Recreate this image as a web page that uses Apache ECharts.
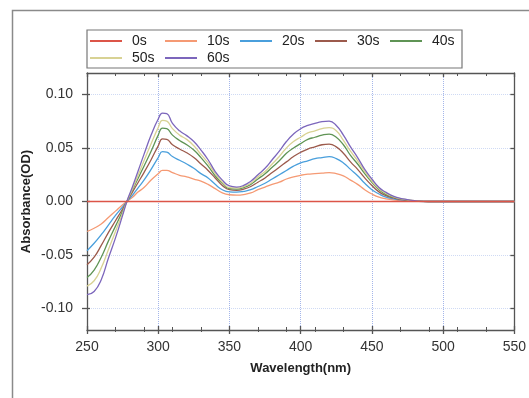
<!DOCTYPE html>
<html><head><meta charset="utf-8">
<script src="https://cdn.jsdelivr.net/npm/echarts@6/dist/echarts.min.js"></script>
<style>html,body{margin:0;padding:0;background:#fff}#c{width:529px;height:398px}</style>
</head><body><div id="c"></div>
<script>
const seriesNames = ['0s','10s','20s','30s','40s','50s','60s'];
const wavelength = [250,255,260,265,270,275,278,282,286,290,295,300,303,306,310,315,320,325,330,335,340,345,350,355,360,365,370,375,380,385,390,395,400,405,410,415,420,425,430,435,440,445,450,455,460,465,470,475,480,490,500,550];
const abs0s  = [0,0,0,0,0,0,0,0,0,0,0,0,0,0,0,0,0,0,0,0,0,0,0,0,0,0,0,0,0,0,0,0,0,0,0,0,0,0,0,0,0,0,0,0,0,0,0,0,0,0,0,0];
const abs10s = [-0.028,-0.025,-0.021,-0.015,-0.009,-0.003,0,0.004,0.009,0.013,0.020,0.026,0.029,0.029,0.027,0.0245,0.023,0.021,0.019,0.016,0.012,0.008,0.0063,0.006,0.0065,0.008,0.011,0.0135,0.016,0.018,0.021,0.023,0.0245,0.0255,0.026,0.0265,0.027,0.026,0.024,0.020,0.016,0.011,0.007,0.004,0.0025,0.0015,0.001,0.0006,0.0003,0,0,0];
const abs20s = [-0.046,-0.039,-0.031,-0.022,-0.013,-0.005,0,0.006,0.013,0.020,0.030,0.041,0.0465,0.046,0.042,0.0385,0.035,0.031,0.026,0.022,0.016,0.011,0.009,0.0088,0.0095,0.011,0.014,0.017,0.021,0.025,0.029,0.033,0.036,0.038,0.040,0.041,0.042,0.040,0.036,0.030,0.024,0.017,0.011,0.007,0.004,0.0025,0.0015,0.0009,0.0004,0,0,0];
const abs30s = [-0.059,-0.052,-0.041,-0.029,-0.018,-0.007,0,0.009,0.018,0.027,0.039,0.052,0.0585,0.058,0.053,0.049,0.0455,0.041,0.035,0.029,0.022,0.015,0.011,0.0104,0.0115,0.014,0.018,0.022,0.027,0.032,0.037,0.042,0.046,0.049,0.051,0.053,0.0535,0.051,0.045,0.037,0.030,0.022,0.015,0.009,0.0055,0.0033,0.002,0.0012,0.0005,0,0,0];
const abs40s = [-0.071,-0.064,-0.052,-0.037,-0.023,-0.009,0,0.011,0.022,0.033,0.047,0.062,0.0686,0.068,0.062,0.057,0.053,0.048,0.041,0.033,0.024,0.017,0.012,0.0116,0.013,0.016,0.021,0.026,0.032,0.038,0.045,0.050,0.054,0.058,0.060,0.062,0.063,0.060,0.053,0.043,0.035,0.026,0.018,0.011,0.0065,0.004,0.0024,0.0014,0.0006,0,0,0];
const abs50s = [-0.079,-0.074,-0.062,-0.045,-0.028,-0.011,0,0.012,0.025,0.038,0.054,0.069,0.0758,0.075,0.068,0.062,0.058,0.052,0.044,0.036,0.026,0.018,0.013,0.0126,0.014,0.017,0.023,0.028,0.035,0.042,0.050,0.056,0.060,0.064,0.066,0.068,0.069,0.066,0.057,0.047,0.038,0.028,0.019,0.012,0.0075,0.0045,0.0027,0.0016,0.0007,0,0,0];
const abs60s = [-0.087,-0.084,-0.073,-0.053,-0.034,-0.013,0,0.014,0.029,0.044,0.062,0.077,0.0825,0.082,0.073,0.066,0.0615,0.056,0.048,0.039,0.028,0.020,0.0145,0.0135,0.015,0.019,0.025,0.031,0.039,0.047,0.056,0.063,0.068,0.071,0.073,0.0745,0.075,0.071,0.062,0.051,0.041,0.030,0.021,0.013,0.0085,0.005,0.003,0.0018,0.0008,0,0,0];
const xTickLabels = [250,300,350,400,450,500,550];
const xMinorTicks = [270,290,310,330,350,370,390,410,430,450,470,490,510,530];
const yTickLabels = [-0.10,-0.05,0.00,0.05,0.10];

const allValues = [abs0s, abs10s, abs20s, abs30s, abs40s, abs50s, abs60s];
const colors = ['#dc5548','#f59a74','#4a9fdc','#9c5a4c','#5f9455','#d8d294','#7c66bc'];

const FONT = '"Liberation Sans", Arial, sans-serif';
const AXC = '#555';

const chart = echarts.init(document.getElementById('c'), null, {renderer: 'canvas'});
const baseX = {type: 'value', min: 250, max: 550, gridIndex: 0};
const baseY = {type: 'value', min: -0.12, max: 0.12, gridIndex: 0};

chart.setOption({
  animation: false,
  backgroundColor: '#fff',
  graphic: [{
    type: 'rect', left: 10, top: 8, silent: true,
    shape: {width: 540, height: 400},
    style: {fill: 'none', stroke: '#8a8a8a', lineWidth: 1.5}
  }],
  grid: {left: 87, right: 11, top: 73, bottom: 68, containLabel: false},
  legend: {
    left: 87, top: 30, width: 378,
    data: seriesNames,
    icon: 'rect', itemWidth: 32, itemHeight: 2, itemGap: 3,
    padding: [4, 0, 3, 3],
    borderColor: '#777', borderWidth: 1.2,
    textStyle: {fontFamily: FONT, fontSize: 14, color: '#222', width: 30, lineHeight: 14, padding: [0,0,0,5]}
  },
  xAxis: [
    Object.assign({}, baseX, {
      position: 'bottom', interval: 50,
      name: 'Wavelength(nm)', nameLocation: 'middle', nameGap: 32, nameMoveOverlap: false,
      nameTextStyle: {fontFamily: FONT, fontSize: 13, fontWeight: 'bold', color: '#222'},
      axisLine: {show: true, onZero: false, lineStyle: {color: AXC, width: 1.3}},
      axisTick: {show: true, inside: false, length: 4, lineStyle: {color: AXC, width: 1.3}},
      axisLabel: {margin: 10, fontFamily: FONT, fontSize: 14, color: '#333', customValues: xTickLabels},
      splitLine: {show: true, lineStyle: {color: '#a4b6ea', type: 'dotted', width: 1}}
    }),
    Object.assign({}, baseX, {
      position: 'bottom', interval: 50,
      axisLine: {show: false, onZero: false},
      axisTick: {show: true, inside: true, length: 4, lineStyle: {color: AXC, width: 1.3}},
      axisLabel: {show: false}, splitLine: {show: false}
    }),
    Object.assign({}, baseX, {
      position: 'bottom',
      axisLine: {show: false, onZero: false},
      axisTick: {show: true, inside: true, length: 3, customValues: xMinorTicks, lineStyle: {color: AXC, width: 1}},
      axisLabel: {show: false}, splitLine: {show: false}
    }),
    Object.assign({}, baseX, {
      position: 'bottom',
      axisLine: {show: false, onZero: false},
      axisTick: {show: true, inside: false, length: 2, customValues: xMinorTicks, lineStyle: {color: AXC, width: 1}},
      axisLabel: {show: false}, splitLine: {show: false}
    }),
    Object.assign({}, baseX, {
      position: 'top', interval: 50,
      axisLine: {show: true, onZero: false, lineStyle: {color: AXC, width: 1.3}},
      axisTick: {show: true, inside: true, length: 4, lineStyle: {color: AXC, width: 1.3}},
      axisLabel: {show: false}, splitLine: {show: false}
    }),
    Object.assign({}, baseX, {
      position: 'top',
      axisLine: {show: false, onZero: false},
      axisTick: {show: true, inside: true, length: 3, customValues: xMinorTicks, lineStyle: {color: AXC, width: 1}},
      axisLabel: {show: false}, splitLine: {show: false}
    })
  ],
  yAxis: [
    Object.assign({}, baseY, {
      position: 'left',
      name: 'Absorbance(OD)', nameLocation: 'middle', nameGap: 54, nameMoveOverlap: false,
      nameTextStyle: {fontFamily: FONT, fontSize: 13, fontWeight: 'bold', color: '#222'},
      axisLine: {show: true, onZero: false, lineStyle: {color: AXC, width: 1.3}},
      axisTick: {show: true, inside: false, length: 5, customValues: yTickLabels, lineStyle: {color: AXC, width: 1.3}},
      axisLabel: {margin: 14, fontFamily: FONT, fontSize: 14, color: '#333', customValues: yTickLabels,
                  formatter: v => v.toFixed(2)},
      splitLine: {show: true, lineStyle: {color: '#cfdaf4', type: 'dotted', width: 1}}
    }),
    Object.assign({}, baseY, {
      position: 'left',
      axisLine: {show: false, onZero: false},
      axisTick: {show: true, inside: true, length: 3, customValues: yTickLabels, lineStyle: {color: AXC, width: 1.3}},
      axisLabel: {show: false}, splitLine: {show: false}
    }),
    Object.assign({}, baseY, {
      position: 'right',
      axisLine: {show: true, onZero: false, lineStyle: {color: AXC, width: 1.3}},
      axisTick: {show: true, inside: true, length: 4, customValues: yTickLabels, lineStyle: {color: AXC, width: 1.3}},
      axisLabel: {show: false}, splitLine: {show: false}
    })
  ],
  series: seriesNames.map((name, i) => ({
    name: name,
    type: 'line',
    xAxisIndex: 0, yAxisIndex: 0,
    data: wavelength.map((w, k) => [w, allValues[i][k]]),
    showSymbol: false,
    smooth: 0.5,
    z: i === 0 ? 5 : 2,
    color: colors[i],
    lineStyle: {color: colors[i], width: i === 0 ? 1.7 : 1.3}
  }))
});
</script></body></html>
